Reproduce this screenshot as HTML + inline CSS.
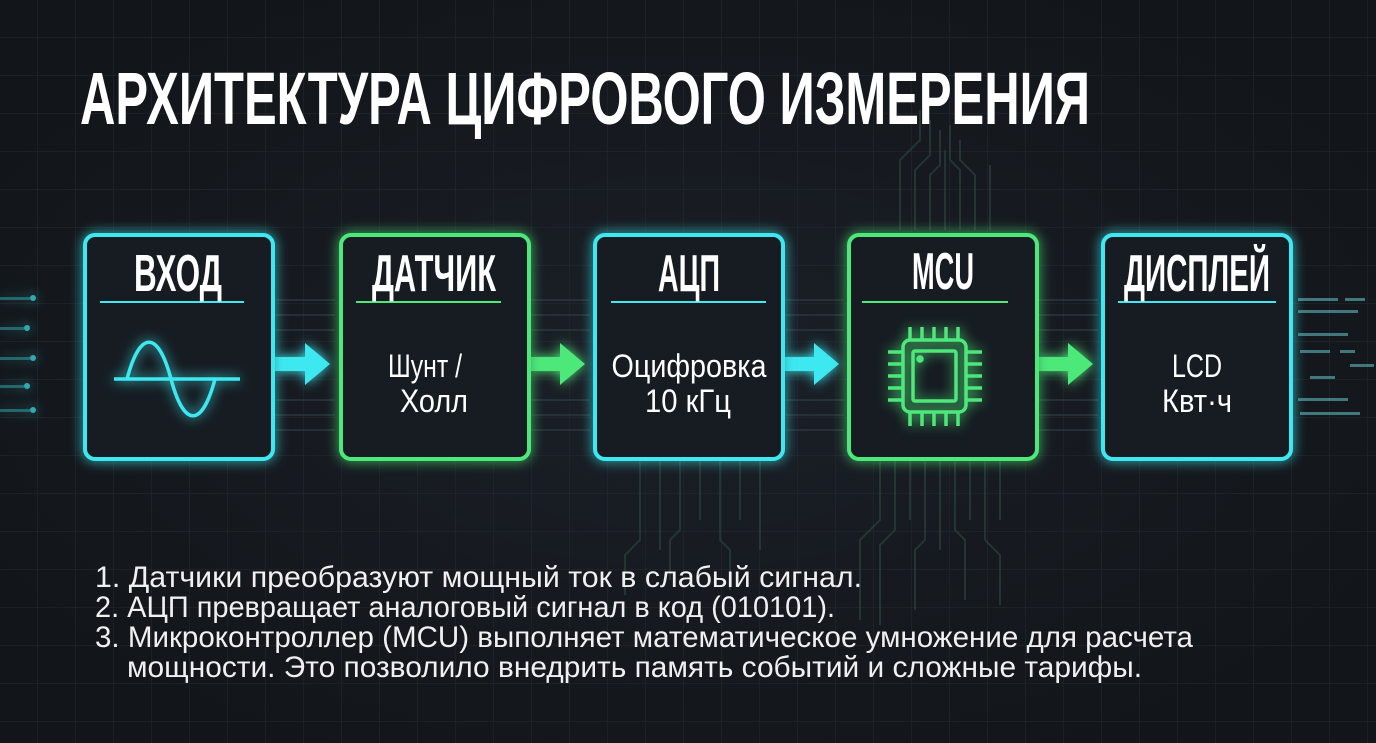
<!DOCTYPE html>
<html><head><meta charset="utf-8"><style>
html,body{margin:0;padding:0;background:#161a1f;}
svg{display:block}
</style></head><body>
<svg width="1376" height="743" viewBox="0 0 1376 743" xmlns="http://www.w3.org/2000/svg">
<defs>
<pattern id="g" width="38" height="38" patternUnits="userSpaceOnUse">
<path d="M38 0V38M0 38H38" stroke="#252b33" stroke-width="1" fill="none"/>
</pattern>
<filter id="glow" x="-30%" y="-30%" width="160%" height="160%">
<feGaussianBlur stdDeviation="6" result="b"/>
<feMerge><feMergeNode in="b"/><feMergeNode in="SourceGraphic"/></feMerge>
</filter>
<radialGradient id="rg" cx="0.5" cy="0.5" r="0.6">
<stop offset="0" stop-color="#1b2028"/><stop offset="1" stop-color="#121519"/>
</radialGradient>
</defs>
<rect width="1376" height="743" fill="url(#rg)"/>
<rect width="1376" height="743" fill="url(#g)"/>

<g stroke="#28423a" stroke-width="2" fill="none" opacity="0.7">
<path d="M900 230V160l20-20V110M915 230V170l15-15V120M930 230V175l10-10V130M945 230V150M960 230V170l-10-10V125M975 230V175l-15-15V140M990 230V165"/>
<path d="M880 460v60l-20 20v80M895 460v70l-15 15v80M910 460v60M925 460v80l-10 10v60M940 460v90M955 460v70l10 10v60M970 460v60M985 460v80l15 15v50M1000 460v60"/>
<path d="M640 460v80l-15 15v40M660 460v90M680 460v70l-10 10v40M700 460v60M720 460v80l10 10v40M740 460v60M760 460v90"/>
</g>
<g stroke="#2a3a40" stroke-width="2" opacity="0.7">
<path d="M275 300h60M275 315h60M275 330h60M275 400h60M275 415h60M275 430h60M530 300h60M530 315h60M530 330h60M530 400h60M530 415h60M530 430h60M784 300h60M784 315h60M784 330h60M784 400h60M784 415h60M784 430h60M1038 300h60M1038 315h60M1038 330h60M1038 400h60M1038 415h60M1038 430h60"/>
</g>
<g fill="#3de8f0" opacity="0.7" filter="url(#glow)">
<rect x="0" y="297" width="30" height="3" opacity="0.5"/><circle cx="33" cy="298" r="3"/>
<rect x="0" y="327" width="24" height="3" opacity="0.5"/><circle cx="27" cy="328" r="3"/>
<rect x="0" y="357" width="30" height="3" opacity="0.5"/><circle cx="33" cy="358" r="3"/>
<rect x="0" y="385" width="24" height="3" opacity="0.5"/><circle cx="27" cy="386" r="3"/>
<rect x="0" y="409" width="30" height="3" opacity="0.5"/><circle cx="33" cy="410" r="3"/>
</g>
<g fill="#5fb9c0" opacity="0.6">
<rect x="1298" y="298" width="40" height="3"/><rect x="1345" y="298" width="20" height="3"/>
<rect x="1298" y="310" width="60" height="3"/><rect x="1298" y="333" width="50" height="3"/>
<rect x="1300" y="350" width="30" height="3"/><rect x="1340" y="350" width="15" height="3"/>
<rect x="1350" y="364" width="24" height="3"/><rect x="1310" y="376" width="25" height="3"/>
<rect x="1298" y="398" width="50" height="3"/><rect x="1300" y="412" width="60" height="3"/>
</g>

<text x="80" y="124" font-family="Liberation Sans Narrow, Liberation Sans, sans-serif" font-weight="bold" font-size="74" fill="#fff" textLength="1010" lengthAdjust="spacingAndGlyphs">АРХИТЕКТУРА ЦИФРОВОГО ИЗМЕРЕНИЯ</text>

<g filter="url(#glow)">
<path d="M275 357h30v-14l25 21-25 21v-14h-30z" fill="#3de8f0"/>
<path d="M530 357h30v-14l25 21-25 21v-14h-30z" fill="#4ee87a"/>
<path d="M784 357h30v-14l25 21-25 21v-14h-30z" fill="#3de8f0"/>
<path d="M1038 357h30v-14l25 21-25 21v-14h-30z" fill="#4ee87a"/>
</g>

<g fill="#171c22" stroke-width="4" filter="url(#glow)">
<rect x="85" y="235" width="188" height="224" rx="10" stroke="#3de8f0"/>
<rect x="341" y="235" width="188" height="224" rx="10" stroke="#4ee87a"/>
<rect x="595" y="235" width="188" height="224" rx="10" stroke="#3de8f0"/>
<rect x="849" y="235" width="188" height="224" rx="10" stroke="#4ee87a"/>
<rect x="1103" y="235" width="188" height="224" rx="10" stroke="#3de8f0"/>
</g>
<g stroke-width="2">
<path d="M100 302H244" stroke="#3de8f0"/>
<path d="M356 302H501" stroke="#4ee87a"/>
<path d="M611 302H766" stroke="#3de8f0"/>
<path d="M862 302H1008" stroke="#4ee87a"/>
<path d="M1118 302H1276" stroke="#3de8f0"/>
</g>
<g font-family="Liberation Sans Narrow, Liberation Sans, sans-serif" font-weight="bold" font-size="52" fill="#fff" text-anchor="middle">
<text x="178" y="291" textLength="88" lengthAdjust="spacingAndGlyphs">ВХОД</text>
<text x="434" y="291" textLength="124" lengthAdjust="spacingAndGlyphs">ДАТЧИК</text>
<text x="689" y="291" textLength="62" lengthAdjust="spacingAndGlyphs">АЦП</text>
<text x="943" y="289" textLength="62" lengthAdjust="spacingAndGlyphs">MCU</text>
<text x="1197" y="291" textLength="146" lengthAdjust="spacingAndGlyphs">ДИСПЛЕЙ</text>
</g>
<g font-family="Liberation Sans Narrow, Liberation Sans, sans-serif" font-size="32" fill="#fff" text-anchor="middle" lengthAdjust="spacingAndGlyphs">
<text x="425" y="377" textLength="74" lengthAdjust="spacingAndGlyphs">Шунт /</text>
<text x="434" y="412" textLength="68" lengthAdjust="spacingAndGlyphs">Холл</text>
<text x="689" y="377" textLength="155" lengthAdjust="spacingAndGlyphs">Оцифровка</text>
<text x="688" y="412" textLength="86" lengthAdjust="spacingAndGlyphs">10 кГц</text>
<text x="1197" y="377" textLength="50" lengthAdjust="spacingAndGlyphs">LCD</text>
<text x="1197" y="412" textLength="70" lengthAdjust="spacingAndGlyphs">Квт·ч</text>
</g>

<g stroke="#3de8f0" stroke-width="3.5" fill="none" filter="url(#glow)">
<path d="M114 379H240"/>
<path d="M127 379C140 330 158 330 171 379S202 428 215 379"/>
</g>

<g stroke="#4ee87a" stroke-width="3.5" fill="none" filter="url(#glow)">
<rect x="903" y="340" width="63" height="72" rx="7"/>
<rect x="913" y="351" width="43" height="50" rx="2"/>
<circle cx="920" cy="359" r="2" fill="#4ee87a"/>
<path d="M910 327v13M922 327v13M934 327v13M946 327v13M958 327v13"/>
<path d="M910 412v14M922 412v14M934 412v14M946 412v14M958 412v14"/>
<path d="M888 352h15M888 364h15M888 376h15M888 388h15M888 400h15"/>
<path d="M966 352h16M966 364h16M966 376h16M966 388h16M966 400h16"/>
</g>

<g font-family="Liberation Sans Narrow, Liberation Sans, sans-serif" font-size="30" fill="#f0f0f0">
<text x="95" y="587" textLength="767" lengthAdjust="spacingAndGlyphs">1. Датчики преобразуют мощный ток в слабый сигнал.</text>
<text x="95" y="617" textLength="740" lengthAdjust="spacingAndGlyphs">2. АЦП превращает аналоговый сигнал в код (010101).</text>
<text x="95" y="647" textLength="1098" lengthAdjust="spacingAndGlyphs">3. Микроконтроллер (MCU) выполняет математическое умножение для расчета</text>
<text x="127" y="677" textLength="1015" lengthAdjust="spacingAndGlyphs">мощности. Это позволило внедрить память событий и сложные тарифы.</text>
</g>
</svg>
</body></html>
